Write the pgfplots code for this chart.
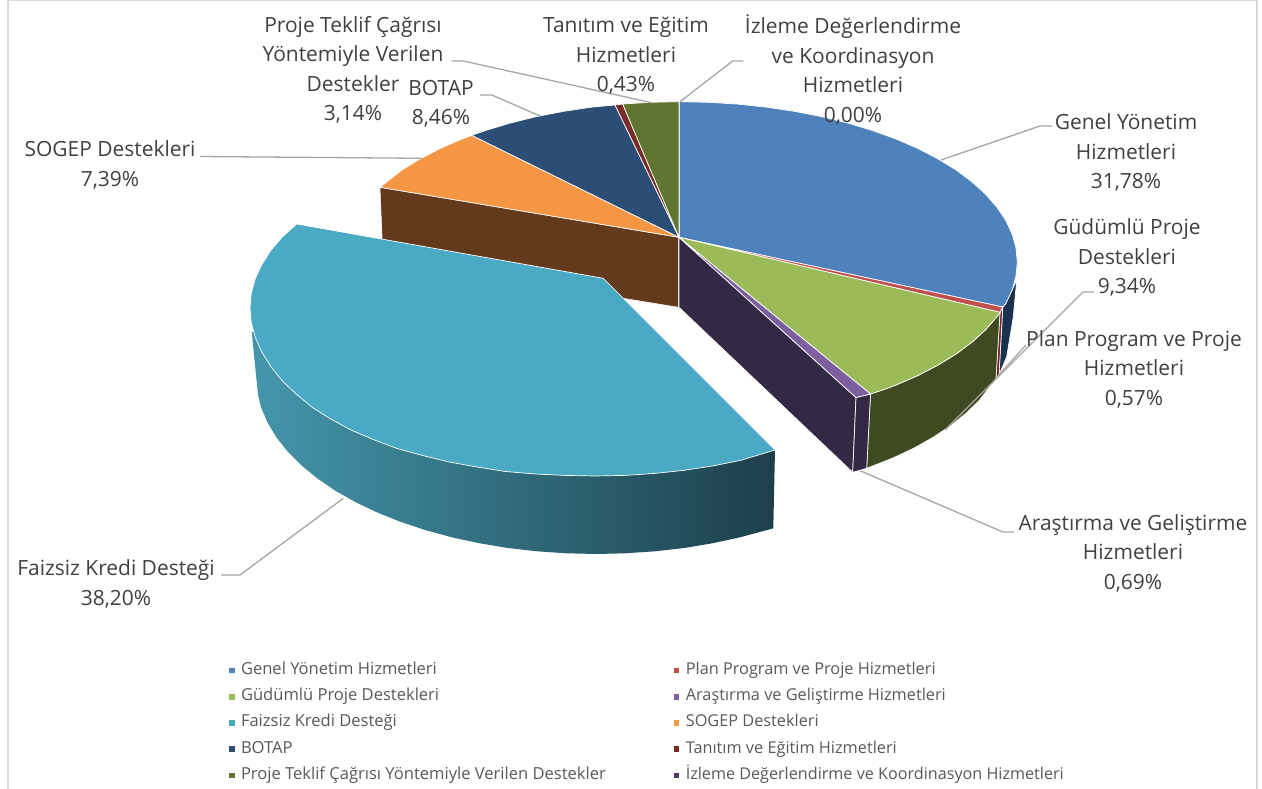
\documentclass[border=0pt]{standalone}
\usepackage{pgfplots}
\pgfplotsset{compat=1.18}
\usepackage{fontspec}
\setmainfont{Open Sans}
\definecolor{cBlue}{HTML}{4F81BD}
\definecolor{cRed}{HTML}{C0504D}
\definecolor{cGreen}{HTML}{9BBB59}
\definecolor{cPurple}{HTML}{7C5F9F}
\definecolor{cTeal}{HTML}{4AA9C3}
\definecolor{cOrange}{HTML}{F59645}
\definecolor{cNavy}{HTML}{2C4D75}
\definecolor{cDRed}{HTML}{772C2A}
\definecolor{cOlive}{HTML}{5F7530}
\definecolor{cDPurple}{HTML}{4D3B62}
\definecolor{sBlue}{HTML}{1A3150}
\definecolor{sRed}{HTML}{6E2322}
\definecolor{sGreen}{HTML}{404A21}
\definecolor{sPurple}{HTML}{332944}
\definecolor{sBrown}{HTML}{643A1D}
\definecolor{leader}{HTML}{A6A6A6}
\definecolor{txt}{HTML}{404040}
\definecolor{legtxt}{HTML}{595959}
\definecolor{frameC}{HTML}{D9D9D9}
\definecolor{tealA}{HTML}{4496AC}
\definecolor{tealB}{HTML}{306E80}
\definecolor{tealC}{HTML}{1D3F4A}
\newcommand{\lab}{\fontsize{20.95}{29.4}\selectfont\color{txt}}
\newcommand{\legB}{\fontsize{16.3}{20}\selectfont}
\begin{document}
\begin{tikzpicture}
\path[use as bounding box,fill=white] (0,0) rectangle (1262pt,789pt);
\begin{axis}[
  at={(0,0)},anchor=south west,
  scale only axis,width=1262pt,height=789pt,
  xmin=0,xmax=1262,ymin=0,ymax=789,y dir=reverse,
  hide axis,clip=false,
  legend columns=2,
  legend cell align=left,
  legend image code/.code={\path[#1,draw=none] (0pt,-2.8pt) rectangle (5.6pt,2.8pt);},
  legend style={at={(axis cs:229,662.5)},anchor=north west,draw=none,fill=none,
    inner sep=0pt,outer sep=0pt,
    font=\fontsize{16.55}{20}\selectfont\color{legtxt},
    row sep=10.2pt,
    /tikz/every odd column/.append style={column sep=6.4pt},
    /tikz/every even column/.append style={column sep=68pt},
    nodes={inner sep=0pt,outer sep=0pt,text height=12pt,text depth=4pt}},
  wedge/.style={draw=white,line width=0.7pt,line join=round},
  lead/.style={draw=leader,line width=1.3pt,forget plot},
]
% frame
\addplot[draw=frameC,line width=1.5pt,forget plot] coordinates {(8,789)(8,0.7)(1257,0.7)(1257,789)};
% leader lines behind the pie
\addplot[lead] coordinates {(343.3,498.3)(240,575)(221,575)};
\addplot[lead] coordinates {(860,470.7)(1003,532)(1014,532)};
% side faces
\addplot[draw=white,line width=0.5pt,fill=sBrown,forget plot] coordinates {(380,187.3)(678.7,237.3)(678.7,307.3)(623.3,298.3)(383,258)} -- cycle;
\addplot[draw=none,left color=tealA,middle color=tealB,right color=tealC,forget plot] coordinates {(251.7,331.7)(775,450)(773.3,528.3)(766,530.3)(739.7,537.4)(712.3,543.3)(684,548)(655,551.3)(625.6,553.3)(596,554)(566.4,553.3)(537,551.3)(508,548)(479.7,543.3)(452.3,537.4)(426,530.3)(401,522)(377.5,512.6)(355.6,502.2)(335.5,490.8)(317.5,478.5)(301.6,465.5)(287.9,451.8)(276.5,437.5)(267.6,422.8)(261.2,407.7)(258,395)} -- cycle;
\addplot[wedge,fill=sBlue,forget plot] coordinates {(1002.7,307.5)(1005.8,303.5)(1012.2,289.8)(1016.7,280)(1013.3,316.7)(1006.7,356.7)(999,375)} -- cycle;
\addplot[wedge,fill=sRed,forget plot] coordinates {(1000,312.3)(1002.7,307.5)(999,375)(996,378.3)} -- cycle;
\addplot[wedge,fill=sGreen,forget plot] coordinates {(870.5,394)(882.6,390)(896.5,384.8)(918.2,375.4)(938.1,365)(956.1,354)(972,342.2)(985.6,329.7)(996.9,316.8)(1000,312.3)(996,378.3)(979.9,399.7)(966.5,412.9)(951,425.4)(933.3,437.2)(913.8,448.2)(892.4,458.2)(866.7,468.3)} -- cycle;
\addplot[wedge,fill=sPurple,forget plot] coordinates {(679,237.3)(856,397.5)(852.7,472.3)(679,307.3)} -- cycle;
\addplot[wedge,fill=sPurple,forget plot] coordinates {(856,397.5)(870.5,394)(866.7,468.3)(852.7,472.3)} -- cycle;
% top faces, in legend order
\addplot[wedge,fill=cBlue] coordinates {(679,237.3)(679,101.7)(708.5,102.3)(737.7,104.1)(766.6,107.2)(794.7,111.4)(822,116.7)(848.2,123.2)(873,130.7)(896.5,139.2)(918.2,148.6)(938.1,159)(956.1,170)(972,181.9)(985.6,194.3)(996.9,207.2)(1005.8,220.5)(1012.2,234.2)(1016,248)(1017.3,262)(1016,276)(1012.2,289.8)(1005.8,303.5)(1002.7,307)} -- cycle;
\addlegendentry{Genel Yönetim Hizmetleri}
\addplot[wedge,fill=cRed] coordinates {(679,237.3)(1002.7,307)(1000,312.3)} -- cycle;
\addlegendentry{\legB Plan Program ve Proje Hizmetleri}
\addplot[wedge,fill=cGreen] coordinates {(679,237.3)(1000,312.3)(996.9,316.8)(985.6,329.7)(972,342.2)(956.1,354)(938.1,365)(918.2,375.4)(896.5,384.8)(882.6,390)(870.5,394)} -- cycle;
\addlegendentry{Güdümlü Proje Destekleri}
\addplot[wedge,fill=cPurple] coordinates {(679,237.3)(870.5,394)(856,397.5)} -- cycle;
\addlegendentry{\legB Araştırma ve Geliştirme Hizmetleri}
\addplot[wedge,fill=cTeal] coordinates {(296.7,224)(603.3,278.3)(775,450)(740.8,460.3)(713,465.9)(684.3,470.3)(654.9,473.4)(625.1,475.4)(595,476)(564.9,475.4)(535.1,474)(505.7,471.5)(477,467)(449.2,462)(422.5,455.5)(397.1,448.5)(373.2,439.5)(351,430)(330.7,419)(312.4,407.5)(296.2,394)(282.3,381)(270.8,366.5)(261.8,352)(255.2,337.2)(251.3,322.6)(250,308)(251.3,293.4)(255.2,278.8)(261.8,264.5)(270.8,250.5)(282.3,237)} -- cycle;
\addlegendentry{Faizsiz Kredi Desteği}
\addplot[wedge,fill=cOrange] coordinates {(679,237.3)(380,187.3)(401.9,170)(419.9,159)(439.8,148.6)(461.5,139.2)(471.7,135.3)} -- cycle;
\addlegendentry{\legB SOGEP Destekleri}
\addplot[wedge,fill=cNavy] coordinates {(679,237.3)(471.7,135.3)(485,130.7)(509.8,123.2)(536,116.7)(563.3,111.4)(591.4,107.2)(615,105)} -- cycle;
\addlegendentry{BOTAP}
\addplot[wedge,fill=cDRed] coordinates {(679,237.3)(615,105)(622.7,104)} -- cycle;
\addlegendentry{\legB Tanıtım ve Eğitim Hizmetleri}
\addplot[wedge,fill=cOlive] coordinates {(679,237.3)(622.7,104)(650.9,102.3)(679,101.7)} -- cycle;
\addlegendentry{Proje Teklif Çağrısı Yöntemiyle Verilen Destekler}
\addplot[wedge,fill=cDPurple] coordinates {(679,237.3)(679,101.7)(679,101.7)} -- cycle;
\addlegendentry{\fontsize{16.17}{20}\selectfont İzleme Değerlendirme ve Koordinasyon Hizmetleri}
% leader lines
\addplot[lead] coordinates {(941,160)(1040,126)(1052,126)};
\addplot[lead] coordinates {(945,430)(1083,292)(1094,292)};
\addplot[lead] coordinates {(998,376)(1026,345)};
\addplot[lead] coordinates {(200,156.5)(421.7,158.3)};
\addplot[lead] coordinates {(480,95)(491.7,95)(540,116)};
\addplot[lead] coordinates {(451.7,61)(463.3,61)(651.7,102.7)};
\addplot[lead] coordinates {(743.3,61)(732.7,61)(680,101.7)};
% data labels
\node[align=center,font=\lab] at (axis cs:1126,152.5) {Genel Yönetim\\Hizmetleri\\31,78\%};
\node[align=center,font=\lab] at (axis cs:1127,257.5) {Güdümlü Proje\\Destekleri\\9,34\%};
\node[align=center,font=\lab] at (axis cs:1134,369) {Plan Program ve Proje\\Hizmetleri\\0,57\%};
\node[align=center,font=\lab] at (axis cs:1133,553) {Araştırma ve Geliştirme\\Hizmetleri\\0,69\%};
\node[align=center,font=\lab] at (axis cs:116,584) {Faizsiz Kredi Desteği\\38,20\%};
\node[align=center,font=\lab] at (axis cs:110,165) {SOGEP Destekleri\\7,39\%};
\node[align=center,font=\lab] at (axis cs:441,104) {BOTAP\\8,46\%};
\node[align=center,font=\lab] at (axis cs:353,70) {Proje Teklif Çağrısı\\Yöntemiyle Verilen\\Destekler\\3,14\%};
\node[align=center,font=\lab] at (axis cs:626,56) {Tanıtım ve Eğitim\\Hizmetleri\\0,43\%};
\node[align=center,font=\lab] at (axis cs:853,70) {İzleme Değerlendirme\\ve Koordinasyon\\Hizmetleri\\0,00\%};
\end{axis}
\end{tikzpicture}
\end{document}
